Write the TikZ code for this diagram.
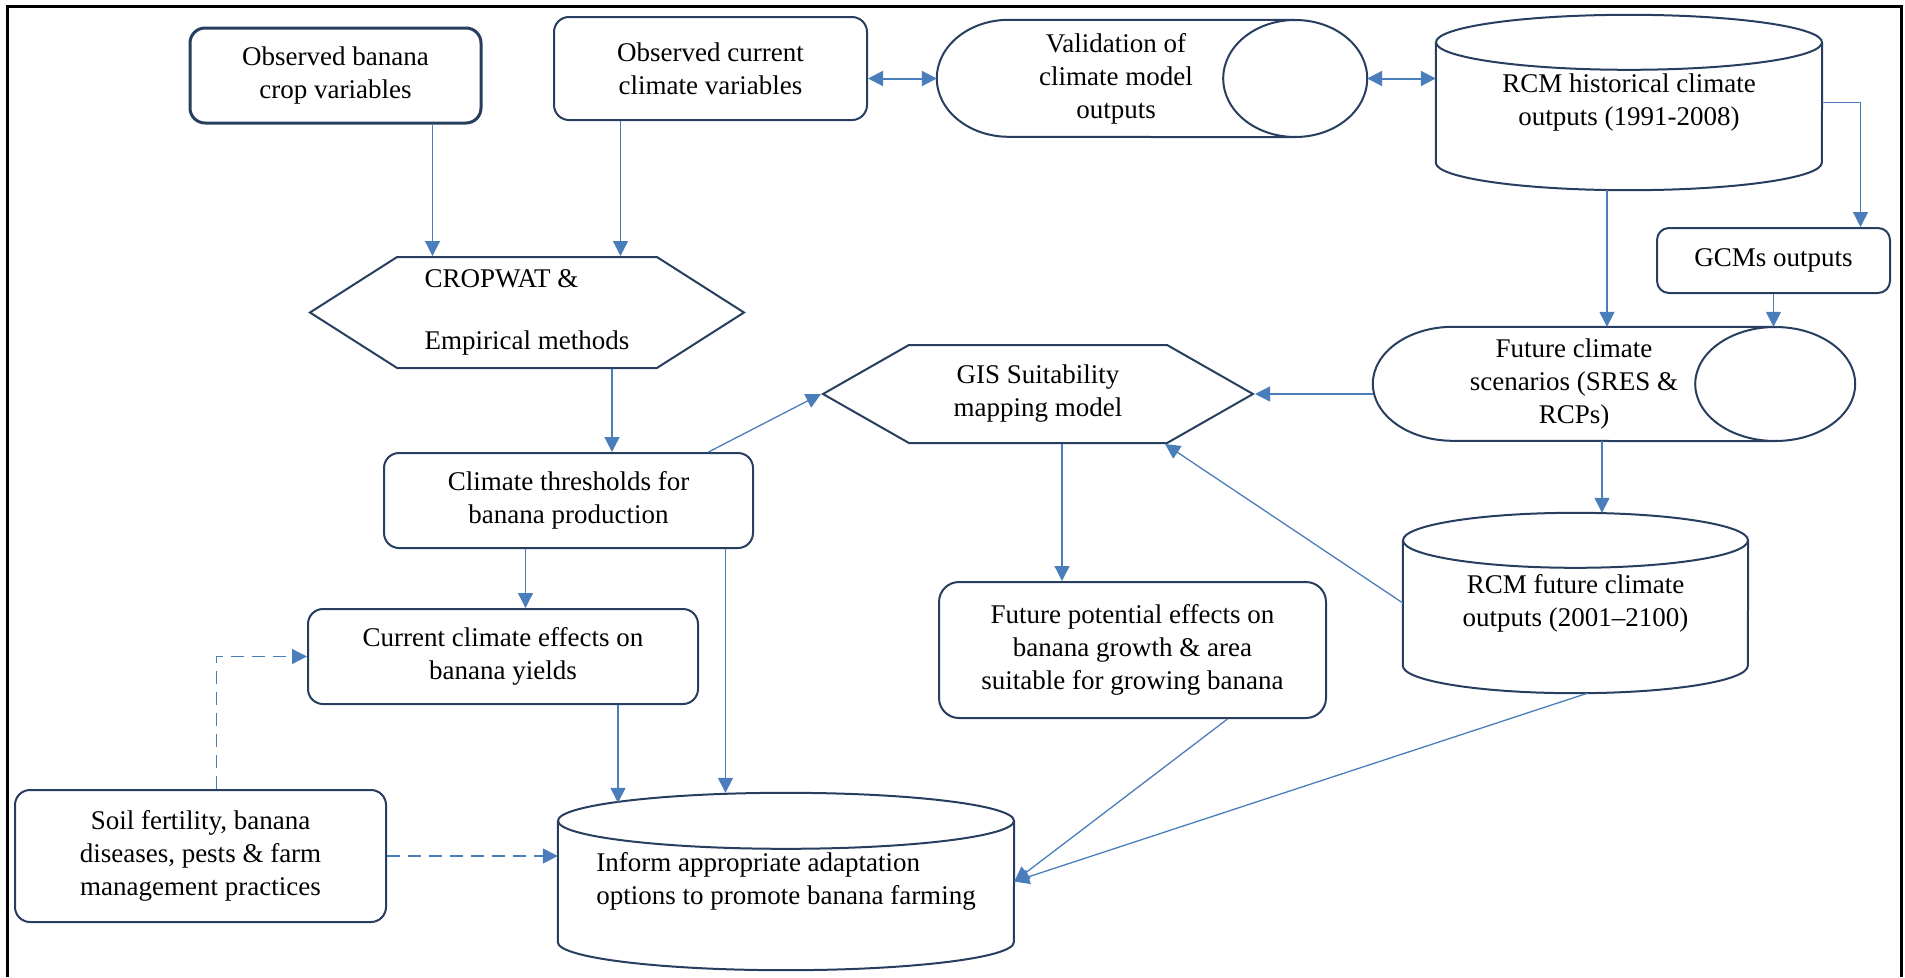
\documentclass[tikz,border=0pt]{standalone}
\usepackage{fontspec}
\setmainfont{Liberation Serif}
\usetikzlibrary{arrows.meta,shapes.symbols}

\definecolor{boxline}{RGB}{40,62,95}
\definecolor{arrowblue}{RGB}{74,126,187}

% upright drum: node name, x radius, y radius
\newcommand{\drumshape}[3]{%
  \draw[outline] ([yshift=-#3]#1.north) ellipse [x radius=#2, y radius=#3];
  \draw[outline] ([yshift=-#3]#1.north west) -- ([yshift=#3]#1.south west)
    arc[start angle=180, end angle=360, x radius=#2, y radius=#3] -- ([yshift=-#3]#1.north east);}
% lying tube, open end on the right: node name, x radius, y radius
\newcommand{\tubeshape}[3]{%
  \draw[outline] (#1.east) ellipse [x radius=#2, y radius=#3];
  \draw[outline] (#1.north east) -- ([xshift=#2]#1.north west)
    arc[start angle=90, end angle=270, x radius=#2, y radius=#3] -- (#1.south east);}

\begin{document}
\begin{tikzpicture}[x=1pt,y=-1pt,
    every node/.style={font=\rmfamily\fontsize{27pt}{33pt}\selectfont, align=center, inner sep=0pt},
    box/.style={rectangle, draw=boxline, line width=2pt, rounded corners=15pt},
    drum/.style={rectangle},
    outline/.style={draw=boxline, line width=2pt},
    hexa/.style={signal, signal to=west and east, draw=boxline, line width=2pt},
    arr/.style={draw=arrowblue, line width=1.3pt, -{Triangle[length=15pt,width=15pt]}},
    dblarr/.style={arr, line width=2pt, {Triangle[length=15pt,width=15pt]}-{Triangle[length=15pt,width=15pt]}},
    dasharr/.style={arr, dash pattern=on 13pt off 8pt}]
\useasboundingbox (0,0) rectangle (1905,977);
\draw[line width=3pt] (7,977) -- (7,6) -- (1901,6) -- (1901,977);

% inputs
\node[box, line width=3pt, minimum width=291pt, minimum height=95pt] (obsbanana) at (335.5,75.5) {Observed banana\\crop variables};
\node[box, minimum width=313pt, minimum height=103pt] (obsclimate) at (710.5,68.5) {Observed current\\climate variables};
\node[drum, minimum width=358pt, minimum height=117pt] (valid) at (1116,78.5) {Validation of\\climate model\\outputs};
\tubeshape{valid}{72pt}{58.5pt}
\node[drum, minimum width=386pt, minimum height=175pt] (rcmhist) at (1629,102.5) {RCM historical climate\\outputs (1991-2008)};
\drumshape{rcmhist}{193pt}{27.5pt}
\node[box, rounded corners=12pt, minimum width=233pt, minimum height=65pt] (gcm) at (1773.5,260.5) {GCMs outputs};

% models
\node[hexa, signal pointer angle=65, minimum width=434pt, minimum height=111pt, align=left] (cropwat) at (527,312.5) {CROPWAT \&\\[29pt]Empirical methods};
\node[drum, minimum width=402pt, minimum height=114pt] (future) at (1574,384) {Future climate\\scenarios (SRES \&\\RCPs)};
\tubeshape{future}{80pt}{57pt}
\node[hexa, signal pointer angle=59.4, minimum width=430pt, minimum height=98pt] (gis) at (1038,394) {GIS Suitability\\mapping model};

% effects
\node[box, minimum width=369pt, minimum height=95pt] (thresh) at (568.5,500.5) {Climate thresholds for\\banana production};
\node[box, minimum width=390pt, minimum height=95pt] (current) at (503,656.5) {Current climate effects on\\banana yields};
\node[box, rounded corners=20pt, minimum width=387pt, minimum height=136pt] (futeff) at (1132.5,650) {Future potential effects on\\banana growth \& area\\suitable for growing banana};
\node[drum, minimum width=345pt, minimum height=180pt] (rcmfut) at (1575.5,603) {RCM future climate\\outputs (2001--2100)};
\drumshape{rcmfut}{172.5pt}{27.5pt}
\node[box, minimum width=371pt, minimum height=132pt] (soil) at (200.5,856) {Soil fertility, banana\\diseases, pests \& farm\\management practices};
\node[drum, minimum width=456pt, minimum height=177pt, align=left] (inform) at (786,881.5) {Inform appropriate adaptation\\options to promote banana farming};
\drumshape{inform}{228pt}{28pt}

% connectors
\draw[arr] ([xshift=97pt]obsbanana.south) -- ([xshift=97pt]obsbanana.south |- cropwat.north);
\draw[arr] ([xshift=-90pt]obsclimate.south) -- ([xshift=-90pt]obsclimate.south |- cropwat.north);
\draw[dblarr] (valid.west -| obsclimate.east) -- (valid.west);
\draw[dblarr] ([xshift=72pt]valid.east) -- (valid.east -| rcmhist.west);
\draw[arr] (rcmhist.east) -| ([xshift=87pt]gcm.north);
\draw[arr] ([xshift=-22pt]rcmhist.south) -- ([xshift=-22pt]rcmhist.south |- future.north);
\draw[arr] (gcm.south) -- (gcm.south |- future.north);
\draw[arr] (gis.east -| future.west) -- (gis.east);
\draw[arr] ([xshift=28pt]future.south) -- ([xshift=28pt]future.south |- rcmfut.north);
\draw[arr] (rcmfut.west) -- ([xshift=127pt]gis.south);
\draw[arr] ([xshift=24pt]gis.south) -- ([xshift=24pt]gis.south |- futeff.north);
\draw[arr] ([xshift=140pt]thresh.north) -- (gis.west);
\draw[arr] ([xshift=85pt]cropwat.south) -- ([xshift=85pt]cropwat.south |- thresh.north);
\draw[arr] ([xshift=-43pt]thresh.south) -- ([xshift=-43pt]thresh.south |- current.north);
\draw[arr] ([xshift=157pt]thresh.south) -- ([xshift=157pt]thresh.south |- inform.north);
\draw[arr] ([xshift=115pt]current.south) -- ([xshift=115pt,yshift=-10pt]current.south |- inform.north);
\draw[arr] ([xshift=95pt]futeff.south) -- (inform.east);
\draw[arr] ([xshift=12pt]rcmfut.south) -- (inform.east);
\draw[dasharr] ([xshift=16pt]soil.north) |- (current.west);
\draw[dasharr] (soil.east) -- (soil.east -| inform.west);
\end{tikzpicture}
\end{document}
